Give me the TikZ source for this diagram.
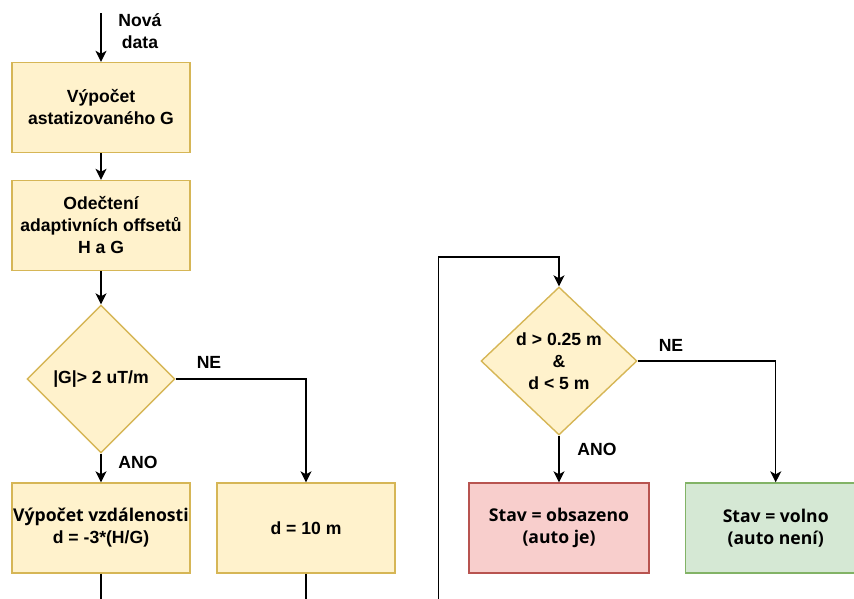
\documentclass[tikz,border=0pt]{standalone}
\usepackage{fontspec}
\setmainfont{Liberation Sans}
\newfontfamily\uifont{Open Sans}
\usetikzlibrary{arrows.meta,shapes.geometric}
\definecolor{yfill}{HTML}{FFF2CC}
\definecolor{yline}{HTML}{D6B656}
\definecolor{rfill}{HTML}{F8CECC}
\definecolor{rline}{HTML}{B85450}
\definecolor{gfill}{HTML}{D5E8D4}
\definecolor{gline}{HTML}{82B366}
\tikzset{
  txt/.style={font=\fontsize{17.6}{22}\selectfont\bfseries, align=center, inner sep=0pt},
  procbox/.style={txt, draw=yline, fill=yfill, line width=1.4pt,
    minimum width=178pt, minimum height=90pt},
  redbox/.style={procbox, draw=rline, fill=rfill, minimum width=180pt},
  greenbox/.style={procbox, draw=gline, fill=gfill, minimum width=180pt},
  decision/.style={diamond, draw=yline, fill=yfill, line width=1.4pt, inner sep=0pt},
  flow/.style={line width=1.4pt, -{Stealth[length=11pt,width=11pt,inset=3pt]}},
  plain/.style={line width=1.4pt},
}
\begin{document}
\begin{tikzpicture}[x=1pt,y=-1pt]
\useasboundingbox (0,0) rectangle (854,598);
\clip (0,0) rectangle (854,598);

% left column
\coordinate (in) at (101,13);
\node[txt] (newdata) at (140,31) {Nová\\data};
\node[procbox] (calcg) at (101,107.5) {Výpočet\\astatizovaného G};
\node[procbox] (offs) at (101,225.5) {Odečtení\\adaptivních offsetů\\H a G};
\node[decision, minimum width=148pt, minimum height=148pt] (gtest) at (101,379) {};
\node[txt] (gtesttxt) at (gtest.center) {|G|> 2 uT/m};
\node[procbox] (dist) at (101,528) {{\uifont Výpočet vzdálenosti}\\d = -3*(H/G)};
\node[procbox] (dten) at (306,528) {d = 10 m};
\node[txt] (ne1) at (209,362) {NE};
\node[txt] (ano1) at (138,462) {ANO};
\coordinate (distend) at (101,600);
\coordinate (dtenend) at (306,600);

% right column
\coordinate (loopin) at (438.3,600);
\coordinate (looptop) at (438.3,257);
\node[decision, minimum width=156pt, minimum height=148pt] (dtest) at (559,361) {};
\node[txt] (dtesttxt) at (dtest.center) {d > 0.25 m\\\&\\d < 5 m};
\node[redbox] (busy) at (559,528) {{\uifont Stav = obsazeno}\\{\uifont (auto je)}};
\node[greenbox] (free) at (775.7,528) {{\uifont Stav = volno}\\{\uifont (auto není)}};
\node[txt] (ne2) at (671,345) {NE};
\node[txt] (ano2) at (597,449) {ANO};

% connectors
\draw[flow] (in) -- (calcg.north);
\draw[flow] (calcg) -- (offs);
\draw[flow] (offs) -- (gtest.north);
\draw[flow] (gtest.south) -- (dist.north);
\draw[flow] (gtest.east) -| (dten.north);
\draw[plain] (dist.south) -- (distend);
\draw[plain] (dten.south) -- (dtenend);
\draw[flow] (loopin) -- (looptop) -| (dtest.north);
\draw[flow] (dtest.south) -- (busy.north);
\draw[flow] (dtest.east) -| (free.north);
\end{tikzpicture}
\end{document}
